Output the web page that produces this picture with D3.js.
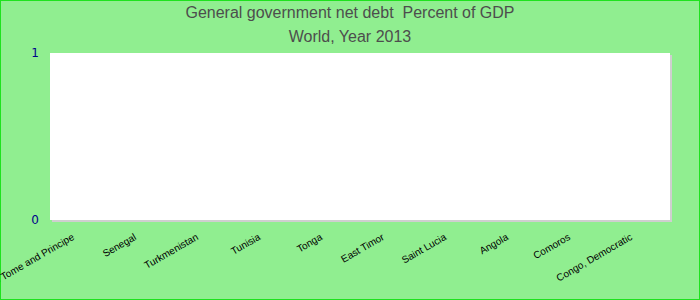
<!DOCTYPE html>
<html>
<head>
<meta charset="utf-8">
<script src="https://cdn.jsdelivr.net/npm/d3@7"></script>
<style>
  html, body { margin: 0; padding: 0; }
  svg { display: block; }
</style>
</head>
<body>
<svg></svg>
<script>
const TITLE = "General government net debt  Percent of GDP";
const SUBTITLE = "World, Year 2013";
const countries = ["Sao Tome and Principe", "Senegal", "Turkmenistan", "Tunisia", "Tonga",
    "East Timor", "Saint Lucia", "Angola", "Comoros", "Congo, Democratic"];
// no values reported for 2013, every bar sits at zero
const debt = [0, 0, 0, 0, 0, 0, 0, 0, 0, 0];
const yTicks = [0, 1];

const width = 700;
const height = 300;
const margin = {top: 53, right: 30, bottom: 80, left: 50};

const svg = d3.select("svg")
    .attr("width", width)
    .attr("height", height);

svg.append("rect")
    .attr("x", 0.5).attr("y", 0.5)
    .attr("width", width - 1).attr("height", height - 1)
    .attr("fill", "#90ee90")
    .attr("stroke", "#1ee21e");

const x = d3.scaleBand()
    .domain(countries)
    .range([margin.left, width - margin.right])
    .paddingInner(0.2)
    .paddingOuter(0.1);

const y = d3.scaleLinear()
    .domain([0, 1])
    .range([height - margin.bottom, margin.top]);

// plot area with a little grey shadow
svg.append("rect")
    .attr("x", margin.left + 2)
    .attr("y", margin.top + 2)
    .attr("width", width - margin.left - margin.right)
    .attr("height", height - margin.top - margin.bottom)
    .attr("fill", "#cfcfcf");
svg.append("rect")
    .attr("x", margin.left)
    .attr("y", margin.top)
    .attr("width", width - margin.left - margin.right)
    .attr("height", height - margin.top - margin.bottom)
    .attr("fill", "#fff");

svg.append("g")
    .selectAll("rect")
    .data(debt)
    .enter().append("rect")
        .attr("x", (d, i) => x(countries[i]))
        .attr("y", d => y(d))
        .attr("width", x.bandwidth())
        .attr("height", d => y(0) - y(d))
        .attr("fill", "#4572a7");

const title = svg.append("g")
    .attr("font-family", "'Liberation Sans', Arial, sans-serif")
    .attr("font-size", 16)
    .attr("fill", "#4d4d4d")
    .attr("text-anchor", "middle");
title.append("text")
    .attr("xml:space", "preserve")
    .attr("x", width / 2)
    .attr("y", 18)
    .text(TITLE);
title.append("text")
    .attr("x", width / 2)
    .attr("y", 42)
    .text(SUBTITLE);

const yAxis = svg.append("g")
    .attr("transform", `translate(${margin.left},0)`)
    .call(d3.axisLeft(y).tickValues(yTicks).tickFormat(d3.format("d")).tickSize(0).tickPadding(11));
yAxis.select(".domain").remove();
yAxis.selectAll("text")
    .attr("fill", "#00008b")
    .attr("font-family", "'DejaVu Sans', sans-serif")
    .attr("font-size", 12);

const xAxis = svg.append("g")
    .attr("transform", `translate(0,${y(0)})`)
    .call(d3.axisBottom(x).tickSize(0));
xAxis.select(".domain").remove();
xAxis.selectAll("text")
    .attr("fill", "#000")
    .attr("font-family", "'Liberation Sans', Arial, sans-serif")
    .attr("font-size", 10)
    .attr("text-anchor", "end")
    .attr("dy", 0)
    .attr("y", 0)
    .attr("transform", "translate(-6,19) rotate(-30)");
</script>
</body>
</html>
